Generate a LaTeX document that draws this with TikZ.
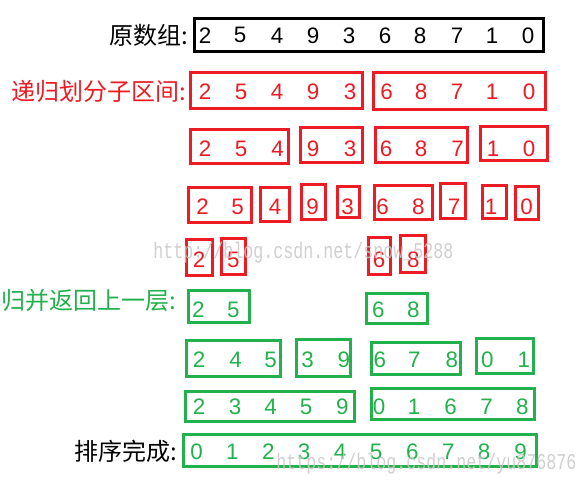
\documentclass[tikz,border=0pt]{standalone}
\usepackage{fontspec}
\setmainfont{Liberation Sans}
\newfontfamily\cjk{Noto Sans CJK SC}
\newfontfamily\wmfont{Liberation Mono}
\usetikzlibrary{fit}
\definecolor{pred}{RGB}{237,28,36}
\definecolor{pgreen}{RGB}{34,177,76}
\definecolor{wmgray}{RGB}{200,200,200}
\begin{document}
\begin{tikzpicture}[x=0.75pt,y=-0.75pt,
  box/.style={draw,line width=2.25pt,inner sep=0pt},
  dig/.style={inner sep=0pt,font=\fontsize{16.8}{16.8}\selectfont},
  lab/.style={anchor=east,inner sep=0pt,font=\cjk\fontsize{18}{18}\selectfont},
  wmark/.style={anchor=west,inner sep=0pt,text=wmgray,opacity=0.85,font=\wmfont\fontsize{12.5}{12.5}\selectfont}]
\useasboundingbox (0,0) rectangle (586,485);
\fill[white] (0,0) rectangle (586,485);

% labels
\node[lab,text=black] (l0) at (188,35) {原数组:};
\node[lab,text=pred] (l1) at (186,91) {递归划分子区间:};
\node[lab,text=pgreen] (l2) at (176,300) {归并返回上一层:};
\node[lab,text=black] (l3) at (177,451) {排序完成:};

% row 0: original array
\node[box,draw=black,fit={(194.5,18.5) (543.5,51.5)}] (k0) {};
\foreach \x/\d [count=\i] in {205/2,240/5,277/4,313/9,349/3,385/6,420/8,457/7,492/1,528/0}
  \node[dig,text=black] (k0d\i) at (\x,35.3) {\d};

% red row 1
\node[box,draw=pred,fit={(190.8,72.2) (362.5,108.5)}] (r1a) {};
\node[box,draw=pred,fit={(373.2,72.2) (545.2,109.2)}] (r1b) {};
\foreach \x/\d [count=\i] in {205/2,241/5,277/4,313/9,350/3,386.7/6,421/8,457/7,492/1,529/0}
  \node[dig,text=pred] (r1d\i) at (\x,92) {\d};

% red row 2
\node[box,draw=pred,fit={(190.8,129.2) (288.8,163.8)}] (r2a) {};
\node[box,draw=pred,fit={(300.8,127.2) (362.2,162.5)}] (r2b) {};
\node[box,draw=pred,fit={(375.5,127.5) (467.2,162.2)}] (r2c) {};
\node[box,draw=pred,fit={(480.8,126.5) (547.2,160.8)}] (r2d) {};
\foreach \x/\d [count=\i] in {205/2,241/5,277.7/4,313/9,350/3,386/6,421/8,457.7/7,493/1,529/0}
  \node[dig,text=pred] (r2d\i) at (\x,148.5) {\d};

% red row 3
\node[box,draw=pred,fit={(188.5,187.8) (251.2,222.2)}] (r3a) {};
\node[box,draw=pred,fit={(260.5,187.8) (289.2,221.2)}] (r3b) {};
\node[box,draw=pred,fit={(301.8,184.8) (325.2,219.2)}] (r3c) {};
\node[box,draw=pred,fit={(337.8,186.2) (359.2,217.8)}] (r3d) {};
\node[box,draw=pred,fit={(374.5,185.8) (432.2,219.2)}] (r3e) {};
\node[box,draw=pred,fit={(440.5,183.8) (465.2,218.2)}] (r3f) {};
\node[box,draw=pred,fit={(482.5,185.5) (506.2,218.2)}] (r3g) {};
\node[box,draw=pred,fit={(515.5,186.5) (538.5,219.2)}] (r3h) {};
\foreach \x/\d [count=\i] in {202.7/2,237.7/5,275/4,312.5/9,347.5/3,382.7/6,418.3/8,454/7,491/1,526.7/0}
  \node[dig,text=pred] (r3d\i) at (\x,207) {\d};

% red row 4
\node[box,draw=pred,fit={(186.5,239.8) (212.5,275.2)}] (r4a) {};
\node[box,draw=pred,fit={(221.5,238.5) (245.2,274.2)}] (r4b) {};
\node[box,draw=pred,fit={(368.5,237.5) (390.5,274.2)}] (r4c) {};
\node[box,draw=pred,fit={(400.5,235.8) (425.5,272.8)}] (r4d) {};
\foreach \x/\d [count=\i] in {199/2,233.3/5,379/6,413.3/8}
  \node[dig,text=pred] (r4d\i) at (\x,259.5) {\d};

% green row 5
\node[box,draw=pgreen,fit={(188.5,290.8) (249.2,322.5)}] (g5a) {};
\node[box,draw=pgreen,fit={(366.5,293.8) (427.5,323.5)}] (g5b) {};
\foreach \x/\d [count=\i] in {198.3/2,233.3/5,378.3/6,413.3/8}
  \node[dig,text=pgreen] (g5d\i) at (\x,310) {\d};

% green row 6
\node[box,draw=pgreen,fit={(186.5,340.5) (280.8,376.8)}] (g6a) {};
\node[box,draw=pgreen,fit={(296.8,339.8) (350.8,376.8)}] (g6b) {};
\node[box,draw=pgreen,fit={(371.5,342.2) (460.2,374.5)}] (g6c) {};
\node[box,draw=pgreen,fit={(476.5,338.8) (533.2,373.5)}] (g6d) {};
\foreach \x/\d [count=\i] in {199/2,235.5/4,270.7/5,307.5/3,343.8/9,379.8/6,414.3/7,451.8/8,487.4/0,523.8/1}
  \node[dig,text=pgreen] (g6d\i) at (\x,360) {\d};

% green row 7
\node[box,draw=pgreen,fit={(185.5,391.5) (354.2,421.2)}] (g7a) {};
\node[box,draw=pgreen,fit={(371.5,388.2) (534.2,419.8)}] (g7b) {};
\foreach \x/\d [count=\i] in {199/2,235/3,270.7/4,306/5,342.3/9,379/0,414/1,450.7/6,486.7/7,522.3/8}
  \node[dig,text=pgreen] (g7d\i) at (\x,407) {\d};

% green row 8: sorted
\node[box,draw=pgreen,fit={(183.8,434.2) (536.2,466.8)}] (g8) {};
\foreach \x/\d [count=\i] in {196.7/0,232.3/1,268.3/2,304/3,340/4,376/5,412.3/6,448.3/7,484/8,520.7/9}
  \node[dig,text=pgreen] (g8d\i) at (\x,452) {\d};

% watermarks
\node[wmark] (w1) at (153,253) {\scalebox{1}[1.35]{http://blog.csdn.net/snow\_5288}};
\node[wmark] (w2) at (276,464) {\scalebox{1}[1.35]{https://blog.csdn.net/yu876876}};
\end{tikzpicture}
\end{document}
